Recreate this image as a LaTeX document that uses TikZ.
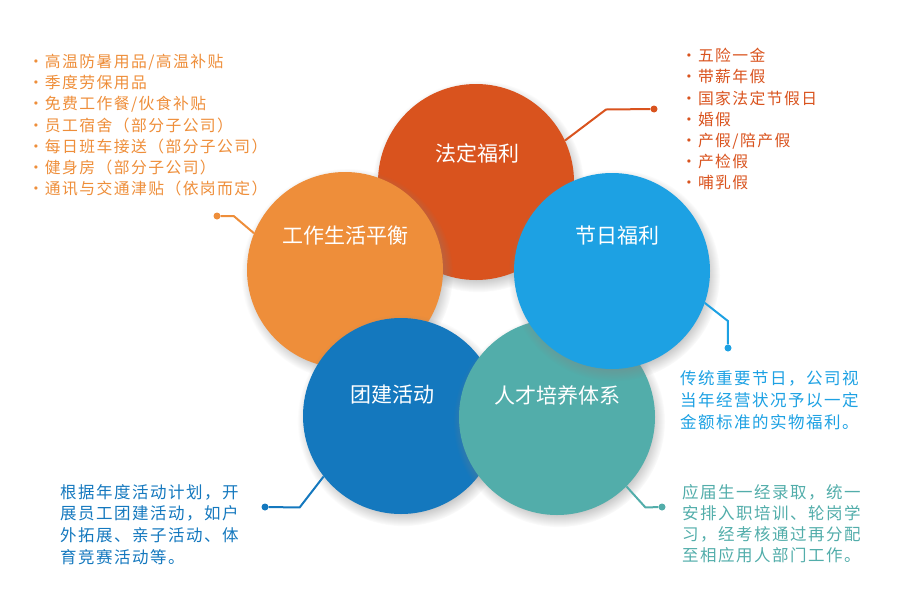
\documentclass[tikz,border=0pt]{standalone}
\usepackage{fontspec}
\newfontfamily\cjk{Noto Sans CJK SC}
\newfontfamily\cjktxt[LetterSpace=9]{Noto Sans CJK SC}
\usetikzlibrary{positioning, shadows, fadings}
\definecolor{law}{RGB}{217,83,30}
\definecolor{life}{RGB}{238,142,58}
\definecolor{fest}{RGB}{29,161,227}
\definecolor{team}{RGB}{20,120,190}
\definecolor{talent}{RGB}{82,173,170}

\begin{document}
\begin{tikzpicture}[x=1pt, y=-1pt,
  ball/.style={circle, minimum size=196pt, inner sep=0, circular drop shadow={shadow xshift=2pt, shadow yshift=-4pt, opacity=.5, shadow scale=1.08}},
  lbl/.style={text=white, inner sep=0, font=\cjk\fontsize{21}{24}\selectfont},
  lst/.style={anchor=north west, align=left, inner sep=0, font=\cjktxt\fontsize{15.8}{21.2}\selectfont},
  note/.style={anchor=north west, align=left, inner sep=0, font=\cjktxt\fontsize{16.5}{21.7}\selectfont},
  ln/.style={line width=2pt},
  endpt/.style={circle, inner sep=0, minimum size=7pt}]

\useasboundingbox (0,0) rectangle (920,600);

\node[ball, fill=law] at (476,182) (fd) {};
\node[ball, fill=life] at (345,270) (gz) {};
\node[ball, fill=team] at (401,416) (tj) {};
\node[ball, fill=talent] at (557,417) (rc) {};
\node[ball, fill=fest] at (612,271) (jr) {};

\node[lbl] at (477,153) (fdt) {法定福利};
\node[lbl] at (345,236) (gzt) {工作生活平衡};
\node[lbl] at (617,236) (jrt) {节日福利};
\node[lbl] at (392,395) (tjt) {团建活动};
\node[lbl] at (557,395) (rct) {人才培养体系};

\node[endpt, fill=law] at (654,109) (fdd) {};
\node[endpt, fill=life] at (217,216) (gzd) {};
\node[endpt, fill=fest] at (728,348) (jrd) {};
\node[endpt, fill=talent] at (662,507) (rcd) {};
\node[endpt, fill=team] at (265,507) (tjd) {};

\draw[ln, law] (fd.25) -- ++(41,-31) -- (fdd);
\draw[ln, life] (gz.158) -- ++(-20,-17) -- (gzd);
\draw[ln, fest] (jr.-19) -- ++(23,18) -- (jrd);
\draw[ln, talent] (rc.-45) -- ++(19,21) -- (rcd);
\draw[ln, team] (tj.-142) -- ++(-24,31) -- (tjd);

\node[lst, text=life] at (28,54) (gzl) {·\kern1pt 高温防暑用品/高温补贴\\·\kern1pt 季度劳保用品\\·\kern1pt 免费工作餐/伙食补贴\\·\kern1pt 员工宿舍（部分子公司）\\·\kern1pt 每日班车接送（部分子公司）\\·\kern1pt 健身房（部分子公司）\\·\kern1pt 通讯与交通津贴（依岗而定）};
\node[lst, text=law] at (681,48) (fdl) {·\kern1pt 五险一金\\·\kern1pt 带薪年假\\·\kern1pt 国家法定节假日\\·\kern1pt 婚假\\·\kern1pt 产假/陪产假\\·\kern1pt 产检假\\·\kern1pt 哺乳假};

\node[note, text=fest, font=\cjktxt\fontsize{16.5}{22}\selectfont] at (680,370) (jrl) {传统重要节日，公司视\\当年经营状况予以一定\\金额标准的实物福利。};
\node[note, text=talent, font=\cjktxt\fontsize{16.5}{21}\selectfont] at (682,484) (rcl) {应届生一经录取，统一\\安排入职培训、轮岗学\\习，经考核通过再分配\\至相应用人部门工作。};
\node[note, text=team] at (60,484) (tjl) {根据年度活动计划，开\\展员工团建活动，如户\\外拓展、亲子活动、体\\育竞赛活动等。};
\end{tikzpicture}
\end{document}
